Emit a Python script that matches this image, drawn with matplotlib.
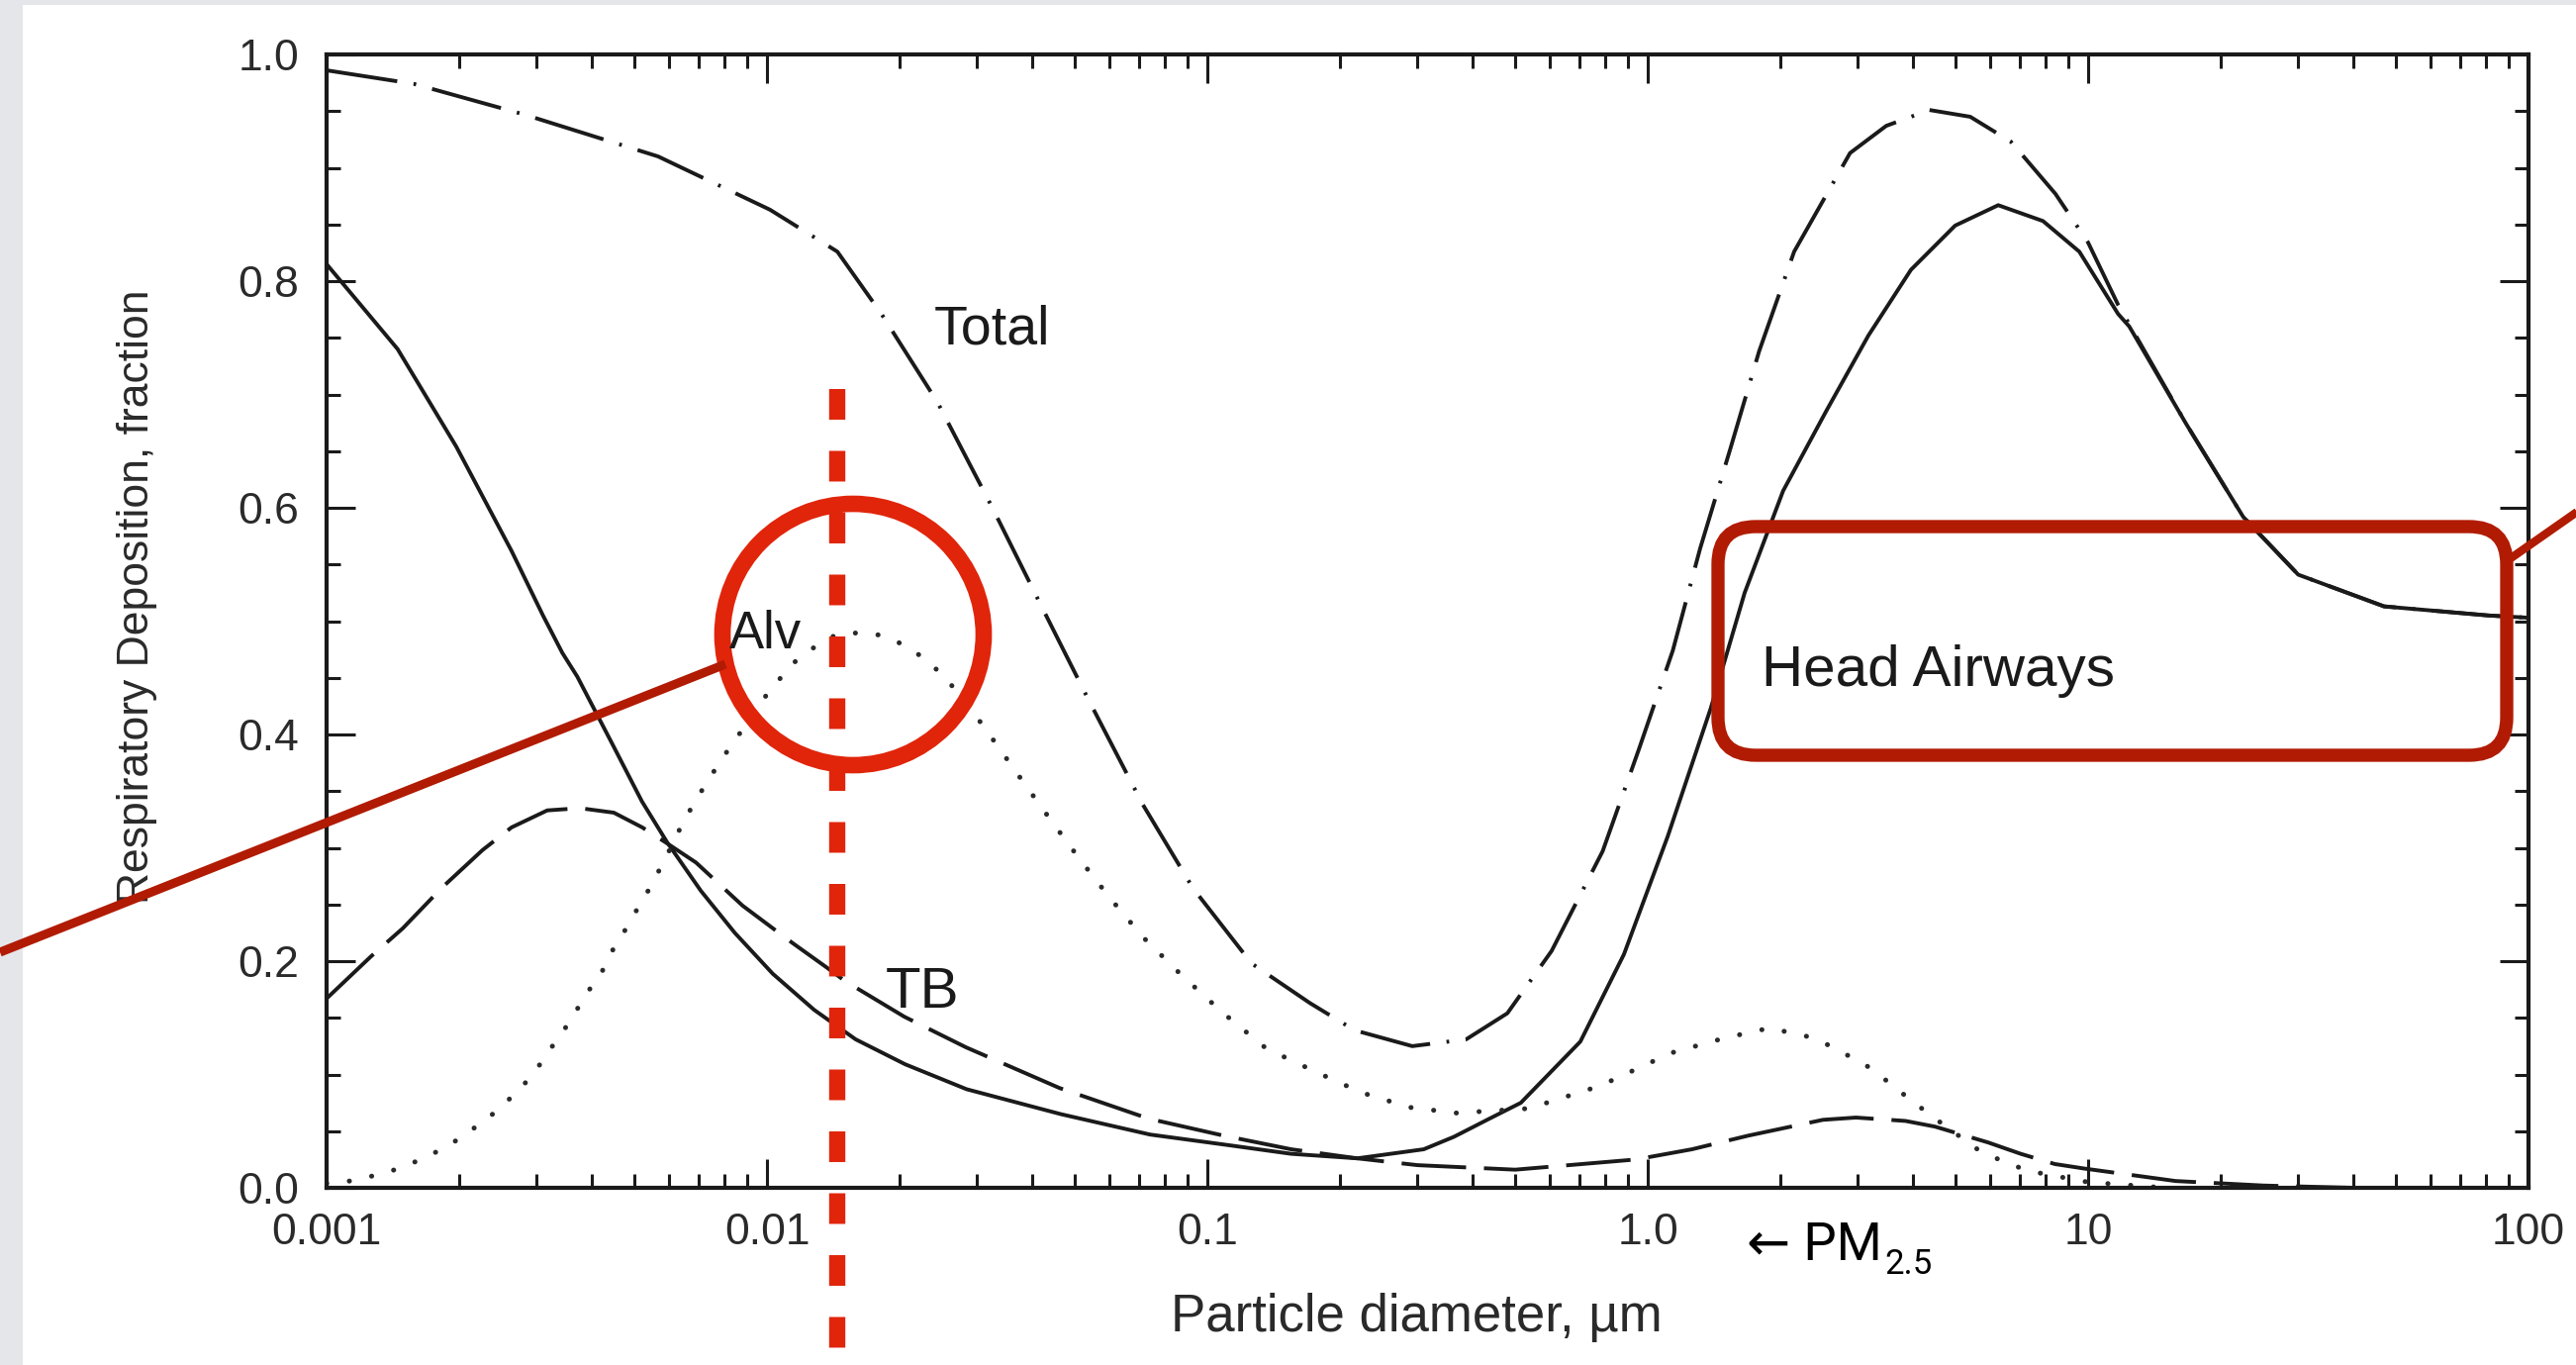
import numpy as np
import matplotlib
matplotlib.use("Agg")
import matplotlib.pyplot as plt
from matplotlib.patches import Circle, FancyBboxPatch, Rectangle
from matplotlib.ticker import LogLocator, MultipleLocator, NullFormatter

plt.rcParams['font.family'] = ['Liberation Sans', 'DejaVu Sans']
plt.rcParams['lines.scale_dashes'] = False

# particle diameter (um) / deposition fraction
tot_d = [0.001, 0.00158, 0.00281, 0.00566, 0.01016, 0.01445, 0.0182, 0.0244, 0.0326, 0.0419,
         0.0535, 0.0714, 0.0929, 0.126, 0.171, 0.216, 0.292, 0.387, 0.48, 0.605, 0.79, 0.955,
         1.14, 1.315, 1.54, 1.79, 2.15, 2.88, 3.48, 4.36, 5.4, 6.68, 8.43, 10.0, 11.7, 12.4,
         16.7, 22.5, 30, 47, 81, 100]
tot_v = [0.986, 0.974, 0.947, 0.91, 0.863, 0.826, 0.771, 0.693, 0.599, 0.514,
         0.432, 0.338, 0.264, 0.198, 0.163, 0.139, 0.125, 0.131, 0.154, 0.209, 0.297, 0.387,
         0.474, 0.564, 0.652, 0.738, 0.826, 0.913, 0.937, 0.951, 0.945, 0.923, 0.877, 0.834, 0.779, 0.762,
         0.674, 0.592, 0.541, 0.513, 0.505, 0.503]

ha_d = [0.001, 0.00145, 0.00197, 0.00263, 0.0031, 0.00343, 0.00371, 0.00445, 0.0052, 0.00593,
        0.00708, 0.00845, 0.0103, 0.0128, 0.0159, 0.0206, 0.0284, 0.0465, 0.0741, 0.110, 0.155,
        0.219, 0.31, 0.363, 0.437, 0.515, 0.703, 0.883, 1.11, 1.39, 1.66, 2.03, 2.54, 3.17, 3.96,
        4.99, 6.25, 7.9, 9.55, 11.7, 12.4, 16.7, 22.5, 30, 47, 81, 100]
ha_v = [0.815, 0.74, 0.654, 0.562, 0.505, 0.472, 0.451, 0.392, 0.341, 0.305,
        0.262, 0.225, 0.189, 0.157, 0.131, 0.109, 0.087, 0.065, 0.047, 0.038, 0.030,
        0.026, 0.034, 0.045, 0.061, 0.075, 0.129, 0.206, 0.31, 0.423, 0.525, 0.615, 0.685, 0.752, 0.81,
        0.849, 0.867, 0.853, 0.826, 0.771, 0.76, 0.674, 0.592, 0.541, 0.513, 0.505, 0.503]

tb_d = [0.001, 0.00126, 0.00149, 0.00183, 0.00226, 0.00263, 0.00317, 0.00376, 0.00449, 0.00521,
        0.00593, 0.0069, 0.0088, 0.01143, 0.0136, 0.0151, 0.0205, 0.0283, 0.0462, 0.0736, 0.109,
        0.155, 0.219, 0.30, 0.5, 0.94, 1.26, 1.69, 2.5, 2.97, 3.85, 4.49, 5.93, 7.03, 8.4, 9.8,
        15.8, 25, 40, 100]
tb_v = [0.167, 0.204, 0.229, 0.265, 0.298, 0.318, 0.333, 0.335, 0.331, 0.318,
        0.304, 0.287, 0.249, 0.216, 0.195, 0.182, 0.151, 0.124, 0.088, 0.061, 0.046,
        0.034, 0.026, 0.020, 0.016, 0.025, 0.034, 0.046, 0.060, 0.062, 0.059, 0.054, 0.040, 0.030, 0.021, 0.017,
        0.006, 0.002, 0.0, 0.0]

alv_d = [0.001, 0.00113, 0.00129, 0.00146, 0.00166, 0.00189, 0.00215, 0.00242, 0.00273, 0.00297,
         0.00316, 0.00343, 0.00365, 0.00388, 0.00418, 0.0044, 0.00468, 0.00493, 0.00525, 0.00553,
         0.00587, 0.00646, 0.00687, 0.00731, 0.00777, 0.00828, 0.0089, 0.0096, 0.0104, 0.0113,
         0.0127, 0.01435, 0.01644, 0.0185, 0.0212, 0.0239, 0.0263, 0.0308, 0.0382, 0.044, 0.0513,
         0.060, 0.0715, 0.0872, 0.108, 0.136, 0.177, 0.224, 0.288, 0.368, 0.537, 0.78, 1.13, 1.49,
         1.89, 2.40, 3.11, 3.5, 3.94, 4.46, 5.7, 6.45, 7.3, 10, 15]
alv_v = [0.004, 0.006, 0.011, 0.017, 0.026, 0.037, 0.052, 0.067, 0.086, 0.102,
         0.118, 0.137, 0.153, 0.171, 0.187, 0.206, 0.222, 0.238, 0.255, 0.271,
         0.29, 0.323, 0.341, 0.358, 0.374, 0.39, 0.407, 0.427, 0.443, 0.461,
         0.476, 0.488, 0.49, 0.487, 0.476, 0.46, 0.443, 0.409, 0.358, 0.325, 0.29,
         0.256, 0.221, 0.188, 0.155, 0.123, 0.102, 0.084, 0.071, 0.066, 0.070, 0.090, 0.119, 0.132,
         0.141, 0.132, 0.109, 0.094, 0.078, 0.062, 0.032, 0.023, 0.015, 0.005, 0.0]

x_ticks = [0.001, 0.01, 0.1, 1, 10, 100]
x_labels = ['0.001', '0.01', '0.1', '1.0', '10', '100']
y_ticks = [0.0, 0.2, 0.4, 0.6, 0.8, 1.0]
y_labels = ['0.0', '0.2', '0.4', '0.6', '0.8', '1.0']

W, H = 2603, 1379
ink = '#1a1a1a'
red = '#e0250b'
darkred = '#b11b03'

fig = plt.figure(figsize=(W / 100, H / 100), dpi=100)
fig.patch.set_facecolor('#e4e6ea')

# white page behind the scan
bg = fig.add_axes([0, 0, 1, 1], zorder=-5)
bg.set_xlim(0, W)
bg.set_ylim(H, 0)
bg.axis('off')
bg.add_patch(Rectangle((23, 5), W - 23, H - 5, facecolor='white', edgecolor='none'))

ax = fig.add_axes([330 / W, 1 - 1200 / H, 2225 / W, 1145 / H])
ax.patch.set_alpha(0)
ax.set_xscale('log')
ax.set_xlim(0.001, 100)
ax.set_ylim(0, 1.0)

ax.plot(ha_d, ha_v, color=ink, lw=2.8)
ax.plot(tb_d, tb_v, color=ink, lw=2.8, dashes=(47, 13))
ax.plot(alv_d, alv_v, color='#2a2a2a', lw=3.6, dashes=(0.1, 16.5), dash_capstyle='round')
ax.plot(tot_d, tot_v, color=ink, lw=2.8, dashes=(52, 12, 2, 12))

ax.set_xticks(x_ticks)
ax.set_xticklabels(x_labels)
ax.xaxis.set_minor_locator(LogLocator(base=10, subs=range(2, 10), numticks=20))
ax.xaxis.set_minor_formatter(NullFormatter())
ax.set_yticks(y_ticks)
ax.set_yticklabels(y_labels)
ax.yaxis.set_minor_locator(MultipleLocator(0.05))
ax.tick_params(which='both', direction='in', top=True, right=True, width=2.2, color=ink,
               labelcolor='#2a2a2a')
ax.tick_params(which='major', length=21, labelsize=32)
ax.tick_params(which='minor', length=10)
ax.tick_params(axis='x', pad=18)
ax.tick_params(axis='y', pad=20)
for s in ax.spines.values():
    s.set_linewidth(3)
    s.set_color(ink)

ax.set_xlabel('Particle diameter, µm', fontsize=38, color='#2a2a2a')
ax.xaxis.set_label_coords(0.495, -0.093)
ax.set_ylabel('Respiratory Deposition, fraction', fontsize=32, color='#2a2a2a')
ax.yaxis.set_label_coords(-0.077, 0.522)

# overlay in pixel coordinates for labels and the red markup
ov = fig.add_axes([0, 0, 1, 1], zorder=10)
ov.set_xlim(0, W)
ov.set_ylim(H, 0)
ov.axis('off')

ov.text(944, 348, 'Total', fontsize=40, ha='left', va='baseline', color=ink)
ov.text(895, 1018, 'TB', fontsize=42, ha='left', va='baseline', color=ink)
ov.text(737, 655, 'Alv', fontsize=38, ha='left', va='baseline', color=ink)
ov.text(1780, 693, 'Head Airways', fontsize=42, ha='left', va='baseline', color=ink)

pm = ov.text(1765, 1273, '← PM', fontsize=38, ha='left', va='baseline', color='black',
             family=['Roboto', 'DejaVu Sans'])
ov.annotate('2.5', xy=(1, 0), xycoords=pm, xytext=(3, -3), textcoords='offset pixels',
            fontsize=25, ha='left', va='baseline', color='black',
            family=['Roboto', 'DejaVu Sans'])

ov.plot([846, 846], [393, H], color=red, lw=11.8, dashes=(22.3, 22.7), dash_capstyle='butt')
ov.add_patch(Circle((862, 641), 132, fill=False, edgecolor=red, lw=12))
ov.add_patch(FancyBboxPatch((1736, 532), 797, 231, boxstyle='round,pad=0,rounding_size=38',
                            fill=False, edgecolor=darkred, lw=9.6))
ov.plot([0, 733], [962, 671], color=darkred, lw=6.5, solid_capstyle='butt')
ov.plot([2537, 2640], [564, 492], color=darkred, lw=6, solid_capstyle='butt')

fig.savefig('out.png', dpi=100, facecolor=fig.get_facecolor())
